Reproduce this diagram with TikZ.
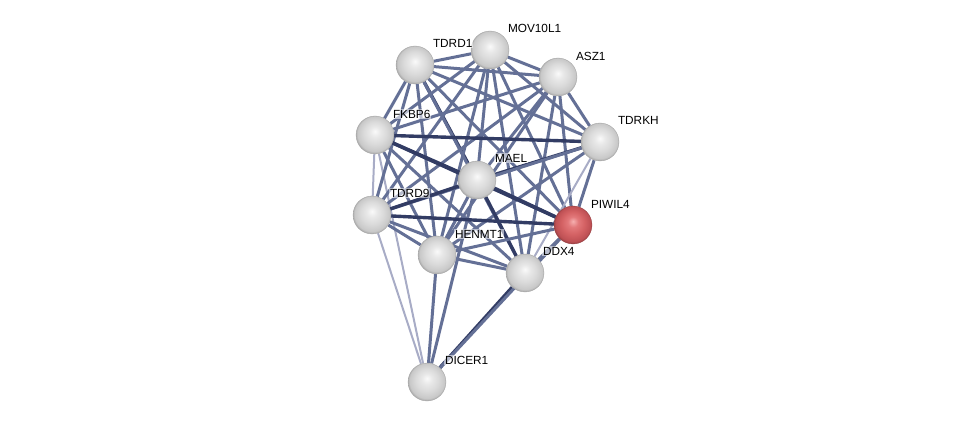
\documentclass[tikz,border=0pt]{standalone}
\usepackage{fontspec}
\setmainfont{Liberation Sans}
\usetikzlibrary{backgrounds}
\definecolor{edgemed}{RGB}{100,112,150}
\definecolor{edgedark}{RGB}{50,60,100}
\definecolor{edgelight}{RGB}{168,172,198}
\definecolor{wA}{RGB}{250,250,250}
\definecolor{wB}{RGB}{232,232,232}
\definecolor{wC}{RGB}{218,218,218}
\definecolor{wD}{RGB}{200,200,200}
\definecolor{wE}{RGB}{140,140,140}
\definecolor{rA}{RGB}{246,176,176}
\definecolor{rB}{RGB}{226,120,122}
\definecolor{rC}{RGB}{212,98,100}
\definecolor{rD}{RGB}{190,80,84}
\definecolor{rE}{RGB}{120,50,52}
\pgfdeclareradialshading{sphw}{\pgfpoint{0bp}{5bp}}{color(0bp)=(wA); color(7bp)=(wB); color(15bp)=(wC); color(23bp)=(wD); color(28bp)=(wE); color(32bp)=(wE)}
\pgfdeclareradialshading{sphr}{\pgfpoint{0bp}{5bp}}{color(0bp)=(rA); color(7bp)=(rB); color(15bp)=(rC); color(23bp)=(rD); color(28bp)=(rE); color(32bp)=(rE)}
\tikzset{
  prot/.style={circle,minimum size=38pt,inner sep=0pt,shading=sphw,draw=gray!70,line width=0.3pt},
  protred/.style={prot,shading=sphr,draw=rD!80!black},
  lbl/.style={anchor=west,font=\fontsize{11.8}{13}\selectfont,inner sep=0.8pt,fill=white,fill opacity=0.55,text opacity=1},
  med/.style={draw=edgemed,line width=3pt},
  dark/.style={draw=edgedark,line width=3.4pt},
  light/.style={draw=edgelight,line width=2pt},
}
\begin{document}
\begin{tikzpicture}[x=1pt,y=-1pt]
\useasboundingbox (0,0) rectangle (976,427);
\node[prot] (tdrd1) at (415,65) {};
\node[prot] (mov) at (490,50) {};
\node[prot] (asz) at (558,77) {};
\node[prot] (tdrkh) at (600,142) {};
\node[prot] (fkbp) at (375,135) {};
\node[prot] (mael) at (477,180) {};
\node[prot] (tdrd9) at (372,215) {};
\node[protred] (piwil) at (573,225) {};
\node[prot] (henmt) at (437,255) {};
\node[prot] (ddx4) at (525,273) {};
\node[prot] (dicer) at (427,382) {};
\begin{pgfonlayer}{background}
\path[light] (dicer) -- (tdrd9);
\path[light] (dicer) -- (fkbp);
\path[med] (dicer) -- (henmt);
\path[med] (dicer) -- (mael);
\path[dark] (dicer) -- (ddx4);
\path[med] (dicer) -- (piwil);
\path[med] (tdrd1) -- (mov);
\path[med] (tdrd1) -- (asz);
\path[med] (tdrd1) -- (tdrkh);
\path[med] (tdrd1) -- (fkbp);
\path[dark] (tdrd1) -- (mael);
\path[med] (tdrd1) -- (tdrd9);
\path[med] (tdrd1) -- (piwil);
\path[med] (tdrd1) -- (henmt);
\path[med] (tdrd1) -- (ddx4);
\path[med] (mov) -- (asz);
\path[med] (mov) -- (tdrkh);
\path[med] (mov) -- (fkbp);
\path[med] (mov) -- (mael);
\path[med] (mov) -- (tdrd9);
\path[med] (mov) -- (piwil);
\path[med] (mov) -- (henmt);
\path[med] (mov) -- (ddx4);
\path[med] (asz) -- (tdrkh);
\path[med] (asz) -- (fkbp);
\path[med] (asz) -- (mael);
\path[med] (asz) -- (tdrd9);
\path[med] (asz) -- (piwil);
\path[med] (asz) -- (henmt);
\path[med] (asz) -- (ddx4);
\path[dark] (tdrkh) -- (fkbp);
\path[dark] (tdrkh) -- (mael);
\path[med] (tdrkh) -- (tdrd9);
\path[med] (tdrkh) -- (piwil);
\path[med] (tdrkh) -- (henmt);
\path[light] (tdrkh) -- (ddx4);
\path[dark] (fkbp) -- (mael);
\path[light] (fkbp) -- (tdrd9);
\path[dark] (fkbp) -- (piwil);
\path[med] (fkbp) -- (henmt);
\path[med] (fkbp) -- (ddx4);
\path[dark] (mael) -- (tdrd9);
\path[dark] (mael) -- (piwil);
\path[med] (mael) -- (henmt);
\path[dark] (mael) -- (ddx4);
\path[dark] (tdrd9) -- (piwil);
\path[med] (tdrd9) -- (henmt);
\path[med] (tdrd9) -- (ddx4);
\path[med] (piwil) -- (henmt);
\path[med] (piwil) -- (ddx4);
\path[med] (henmt) -- (ddx4);
\end{pgfonlayer}
\node[lbl] (l1) at (432,43) {TDRD1};
\node[lbl] (l2) at (507,28) {MOV10L1};
\node[lbl] (l3) at (575,56) {ASZ1};
\node[lbl] (l4) at (617,120) {TDRKH};
\node[lbl] (l5) at (392,114) {FKBP6};
\node[lbl] (l6) at (494,158) {MAEL};
\node[lbl] (l7) at (389,193) {TDRD9};
\node[lbl] (l8) at (590,204) {PIWIL4};
\node[lbl] (l9) at (454,234) {HENMT1};
\node[lbl] (l10) at (542,251) {DDX4};
\node[lbl] (l11) at (444,360) {DICER1};
\end{tikzpicture}
\end{document}
